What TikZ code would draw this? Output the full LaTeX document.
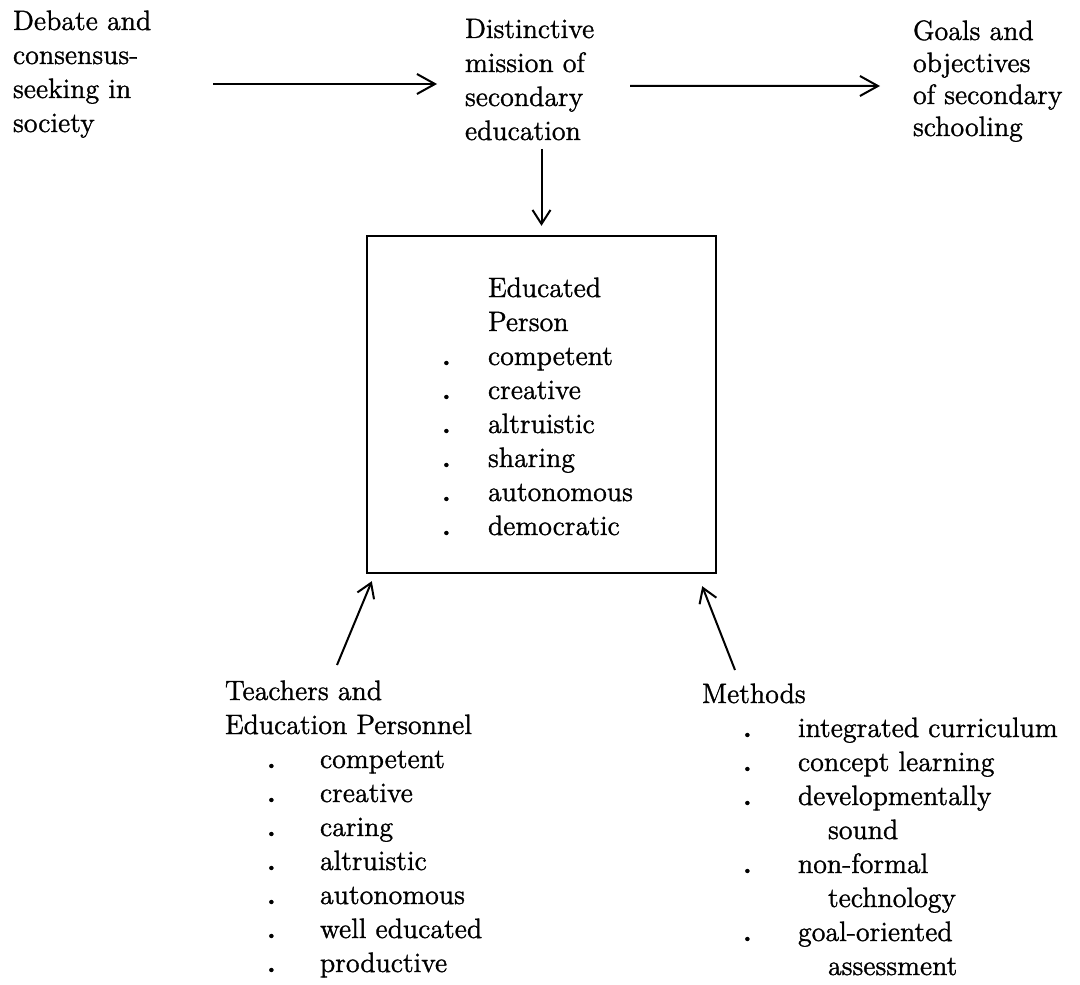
\documentclass[tikz,border=0pt]{standalone}
\usepackage{fontspec}
\setmainfont{Latin Modern Roman}[FakeBold=1.2]
\usetikzlibrary{arrows.meta,calc}
\newcommand{\bl}[2]{\makebox[#1][l]{\textbf{.}}#2}
\tikzset{
  txt/.style={inner sep=0pt, outer sep=0pt, anchor=north west, align=left,
              font=\fontsize{14}{17}\selectfont},
  arr/.style={draw, line width=1pt, -{Straight Barb[length=7pt,width=9pt,line width=1pt]}},
  bigarr/.style={draw, line width=1pt, -{Straight Barb[length=9pt,width=10pt,line width=1pt]}},
  boxstyle/.style={draw, line width=1.2pt, inner sep=0pt, minimum width=174.5pt, minimum height=168.5pt}
}
\begin{document}
\begin{tikzpicture}[x=0.5pt,y=-0.5pt]
\useasboundingbox (0,0) rectangle (1080,984);
% top row
\node[txt] (debate) at (13,6.2) {\strut Debate and\\consensus-\\seeking in\\society};
\node[txt] (mission) at (465,14.2) {\strut Distinctive\\mission of\\secondary\\education};
\node[txt, font=\fontsize{14}{16}\selectfont] (goals) at (913,17.6) {\strut Goals and\\objectives\\of secondary\\schooling};
% box
\node[boxstyle] (box) at (541.5,404.5) {};
\node[txt] (person) at (442,273.2) {\strut\hspace{23pt}Educated\\
  \hspace{23pt}Person\\
  \bl{23pt}{competent}\\
  \bl{23pt}{creative}\\
  \bl{23pt}{altruistic}\\
  \bl{23pt}{sharing}\\
  \bl{23pt}{autonomous}\\
  \bl{23pt}{democratic}};
% bottom
\node[txt] (teachers) at (225,676.2) {\strut Teachers and\\
  Education Personnel\\
  \hspace{21pt}\bl{26.5pt}{competent}\\
  \hspace{21pt}\bl{26.5pt}{creative}\\
  \hspace{21pt}\bl{26.5pt}{caring}\\
  \hspace{21pt}\bl{26.5pt}{altruistic}\\
  \hspace{21pt}\bl{26.5pt}{autonomous}\\
  \hspace{21pt}\bl{26.5pt}{well educated}\\
  \hspace{21pt}\bl{26.5pt}{productive}};
\node[txt] (methods) at (702,679.2) {\strut Methods\\
  \hspace{20.5pt}\bl{27.5pt}{integrated curriculum}\\
  \hspace{20.5pt}\bl{27.5pt}{concept learning}\\
  \hspace{20.5pt}\bl{27.5pt}{developmentally}\\
  \hspace{63pt}sound\\
  \hspace{20.5pt}\bl{27.5pt}{non-formal}\\
  \hspace{63pt}technology\\
  \hspace{20.5pt}\bl{27.5pt}{goal-oriented}\\
  \hspace{63pt}assessment};
% connectors
\draw[bigarr] ($(debate.north west)+(200,77.8)$) -- ($(mission.north west)+(-28,69.8)$);
\draw[bigarr] ($(mission.north west)+(165,71.8)$) -- ($(goals.north west)+(-33,68.4)$);
\draw[arr] ($(box.north)+(0,-86)$) -- ($(box.north)+(0,-9)$);
\draw[arr] ($(teachers.north west)+(112,-11.2)$) -- ($(box.south west)+(6,7)$);
\draw[arr] ($(methods.north west)+(33,-9.2)$) -- ($(box.south east)+(-15,12)$);
\end{tikzpicture}
\end{document}
